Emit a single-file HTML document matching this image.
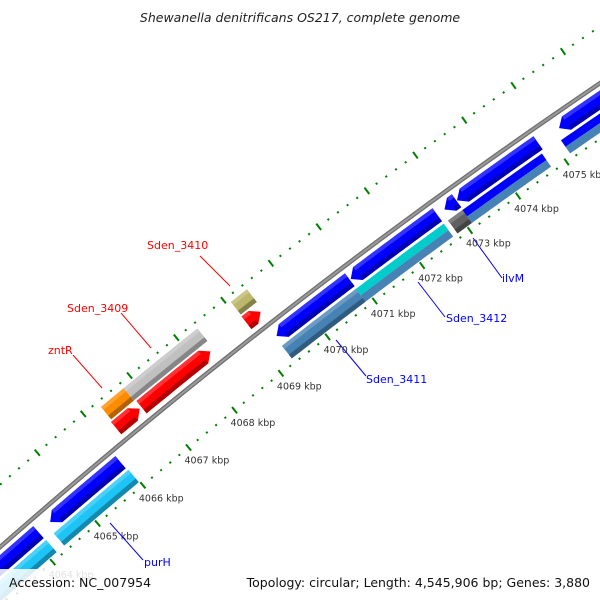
<!DOCTYPE html>
<html><head><meta charset="utf-8"><style>
html,body{margin:0;padding:0;background:#fff;width:600px;height:600px;overflow:hidden}
svg{display:block}
text{font-family:"DejaVu Sans","Liberation Sans",sans-serif}
</style></head><body>
<svg id="map" width="600" height="600" viewBox="0 0 600 600" xmlns="http://www.w3.org/2000/svg">
<rect width="600" height="600" fill="#fff"/>
<g id="rings"></g>
<g id="backbone"></g>
<g id="features"></g>
<g id="ticklabels"></g>
<g font-size="11">
<line x1="200" y1="256" x2="230" y2="286" stroke="#f00" stroke-width="1"/>
<text x="147" y="249" fill="#f00">Sden_3410</text>
<line x1="121" y1="313" x2="151" y2="348" stroke="#f00" stroke-width="1"/>
<text x="67" y="312" fill="#f00">Sden_3409</text>
<line x1="73" y1="355" x2="102" y2="388" stroke="#f00" stroke-width="1"/>
<text x="48" y="354" fill="#f00">zntR</text>
<line x1="110" y1="523" x2="143" y2="560" stroke="#00f" stroke-width="1"/>
<text x="144" y="566" fill="#00f">purH</text>
<line x1="336" y1="340" x2="366" y2="376" stroke="#00f" stroke-width="1"/>
<text x="366" y="383" fill="#00f">Sden_3411</text>
<line x1="418" y1="282" x2="445" y2="317" stroke="#00f" stroke-width="1"/>
<text x="446" y="322" fill="#00f">Sden_3412</text>
<line x1="473" y1="238" x2="502" y2="278" stroke="#00f" stroke-width="1"/>
<text x="502" y="282" fill="#00f">ilvM</text>
</g>
<text x="300" y="22" text-anchor="middle" font-size="12.5" font-style="italic" fill="#222">Shewanella denitrificans OS217, complete genome</text>
<rect x="0" y="569" width="150" height="31" fill="#fff" fill-opacity="0.85"/>
<text x="9" y="587" font-size="12.5" fill="#111">Accession: NC_007954</text>
<rect x="254" y="569" width="346" height="31" fill="#fff" fill-opacity="0.85"/>
<text x="590" y="587" text-anchor="end" font-size="12.5" fill="#111">Topology: circular; Length: 4,545,906 bp; Genes: 3,880</text>
</svg>
<script>
// data (kbp)
const featStart = [4060.0, 4064.41, 4060.0, 4064.33, 4069.33, 4070.90, 4072.86, 4073.12, 4075.22, 4069.30, 4070.87, 4070.87, 4072.80, 4073.10, 4073.10, 4075.13, 4075.13, 4066.27, 4066.82, 4069.07, 4066.30, 4066.79, 4069.08];
const featEnd   = [4064.15, 4065.96, 4064.16, 4065.98, 4070.88, 4072.71, 4073.11, 4074.79, 4078.0, 4070.87, 4072.71, 4072.71, 4073.10, 4074.74, 4074.74, 4078.0, 4078.0, 4066.78, 4068.30, 4069.37, 4066.79, 4068.37, 4069.42];
const featLane  = ["r1","r1","r2","r2","r1","r1","r1","r1","r1","r2","r2t","r2b","r2","r2t","r2b","r2t","r2b","f1","f1","f1","f2","f2","f2"];
const featArrow = [0,-1,0,0,-1,-1,-1,-1,-1,0,0,0,0,0,0,0,0,1,1,1,0,0,0];
const featColor = ["#0000ff","#0000ff","#1ec4f6","#1ec4f6","#0000ff","#0000ff","#0000ff","#0000ff","#0000ff","#4682b4","#00cccc","#4682b4","#606060","#0000ff","#4682b4","#0000ff","#4682b4","#ff0000","#ff0000","#ff0000","#ff8c00","#c0c0c0","#bdb76b"];
const majorTicks = [4060,4061,4062,4063,4064,4065,4066,4067,4068,4069,4070,4071,4072,4073,4074,4075,4076,4077,4078];
const tickLabels = ["4060 kbp","4061 kbp","4062 kbp","4063 kbp","4064 kbp","4065 kbp","4066 kbp","4067 kbp","4068 kbp","4069 kbp","4070 kbp","4071 kbp","4072 kbp","4073 kbp","4074 kbp","4075 kbp","4076 kbp","4077 kbp","4078 kbp"];

const CX=4002, CY=5103, R0=6064;
const lanes={f1:[6079,16],f2:[6097,16],r1:[6050,16],r2:[6031,16],r2t:[6035,8],r2b:[6027,8]};
const NS='http://www.w3.org/2000/svg';
function ang(k){return (-127.63+0.564*(k-4070))*Math.PI/180;}
function pt(k,r){const a=ang(k);return [CX+r*Math.cos(a),CY+r*Math.sin(a)];}
function mk(tag,attrs,parent){const e=document.createElementNS(NS,tag);for(const k in attrs)e.setAttribute(k,attrs[k]);parent.appendChild(e);return e;}
function arcPts(a,b,r,n){const p=[];for(let i=0;i<=n;i++){p.push(pt(a+(b-a)*i/n,r));}return p;}

const rings=document.getElementById('rings');
function ring(r,name){
  for(let k=4060;k<=4078.001;k+=0.2){
    const kk=Math.round(k*10)/10;
    const major=Math.abs(kk-Math.round(kk))<0.01;
    const h=major?4:1;
    const p1=pt(kk,r-h),p2=pt(kk,r+h);
    const l=mk('line',{x1:p1[0],y1:p1[1],x2:p2[0],y2:p2[1],stroke:'#008000','stroke-width':2},rings);
    
    
  }
}
ring(6111,'outer-ring');
ring(6018,'inner-ring');

const bb=document.getElementById('backbone');
const bp=arcPts(4058,4080,R0,60).map(p=>p.join(',')).join(' ');
let b1=mk('polyline',{points:bp,fill:'none',stroke:'#6e6e6e','stroke-width':4.5},bb);


let b2=mk('polyline',{points:bp,fill:'none',stroke:'#9a9a9a','stroke-width':2},bb);



const fg=document.getElementById('features');
function shade(hex,f){let n=parseInt(hex.slice(1),16);let r=n>>16,g=(n>>8)&255,b=n&255;
  const m=c=>f>0?Math.round(c+(255-c)*f):Math.round(c*(1+f));
  return 'rgb('+m(r)+','+m(g)+','+m(b)+')';}
function slab(a,b,rc,th,arrow,col,name){
  const head=0.15;
  const ro=rc+th/2, ri=rc-th/2;
  let pts=[];
  let s=a,e=b;
  if(arrow===1){e=b-head;}
  if(arrow===-1){s=a+head;}
  if(e<s){e=s;}
  pts=pts.concat(arcPts(s,e,ro,20));
  if(arrow===1){pts.push(pt(b,rc));}
  pts=pts.concat(arcPts(e,s,ri,20));
  if(arrow===-1){pts.push(pt(a,rc));}
  const p=mk('polygon',{points:pts.map(q=>q.join(',')).join(' '),fill:col},fg);
  
  
  if(th>=10){
    const dk=arcPts(s,e,ri+th*0.3,20).concat(arcPts(e,s,ri,20));
    const d=mk('polygon',{points:dk.map(q=>q.join(',')).join(' '),fill:shade(col,-0.3)},fg);
    
    
    const lt=arcPts(s,e,ro,20).concat(arcPts(e,s,ro-th*0.25,20));
    const l=mk('polygon',{points:lt.map(q=>q.join(',')).join(' '),fill:shade(col,0.2)},fg);
    
    
  }
}
for(let i=0;i<featStart.length;i++){
  const ln=lanes[featLane[i]];
  slab(featStart[i],featEnd[i],ln[0],ln[1],featArrow[i],featColor[i],'gene-'+i);
}

const tl=document.getElementById('ticklabels');
for(let i=0;i<majorTicks.length;i++){
  const p=pt(majorTicks[i],6018);
  const t=mk('text',{x:p[0]-4,y:p[1]+16,'font-size':9.5,fill:'#333'},tl);
  t.textContent=tickLabels[i];
  
  
}
</script>
</body></html>
